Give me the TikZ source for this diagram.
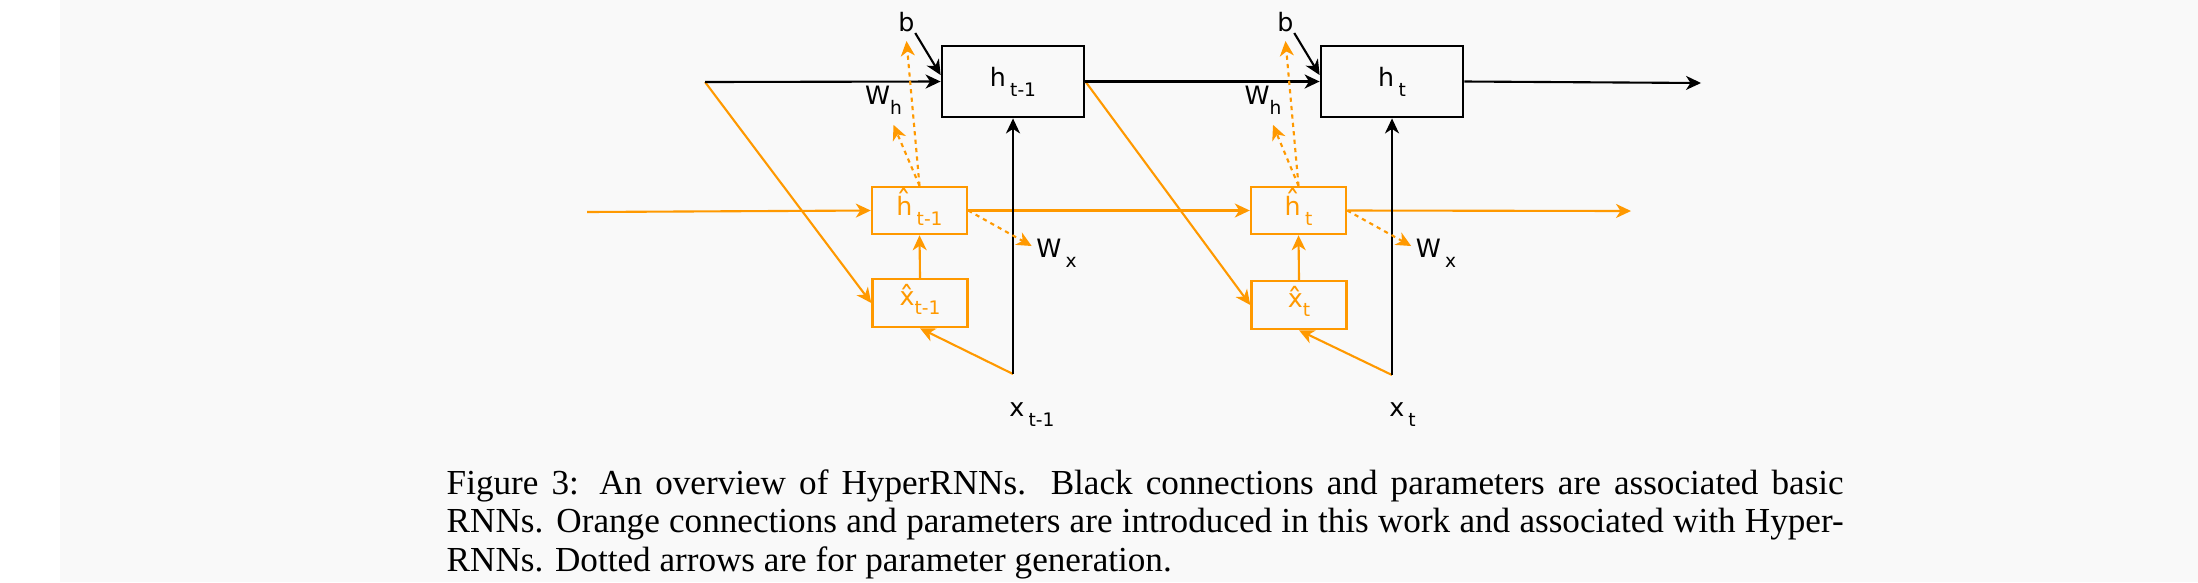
\documentclass[tikz,border=0pt]{standalone}
\usepackage{fontspec}
\setmainfont{Liberation Serif}
\newfontfamily\diagfont{DejaVu Sans}
\usepackage{tikz}
\usetikzlibrary{arrows.meta, positioning, calc}
\definecolor{hyporange}{RGB}{255,153,0}
\definecolor{pagegray}{RGB}{249,249,249}
\newcommand{\lowsub}[1]{\raisebox{-2.8pt}{\fontsize{5.3}{6}\selectfont #1}}
\newcommand{\hatted}[2]{\ooalign{#1\cr\hidewidth\raisebox{#2}{\fontsize{8.6}{9}\selectfont ˆ}\hidewidth\cr}}

\begin{document}
\begin{tikzpicture}[
  cell/.style={draw, line width=0.8pt, minimum width=1.42cm, minimum height=0.71cm,
               inner sep=0pt, font=\diagfont\fontsize{7.2}{8}\selectfont},
  hypcell/.style={draw=hyporange, text=hyporange, line width=0.7pt, minimum width=0.95cm,
                  minimum height=0.47cm, inner sep=0pt, font=\diagfont\fontsize{7.2}{8}\selectfont},
  param/.style={inner sep=0pt, font=\diagfont\fontsize{7.2}{8}\selectfont},
  arr/.style={-{Stealth[length=1.5mm, width=1.4mm, inset=0.45mm]}, line width=0.6pt},
  harr/.style={arr, color=hyporange},
  gen/.style={harr, dash pattern=on 1.2pt off 1.2pt}
]
  % page
  \useasboundingbox (0,0) rectangle (21.98,5.82);
  \fill[white] (0,0) rectangle (21.98,5.82);
  \fill[pagegray] (0.60,0) rectangle (21.98,5.82);

  % basic RNN cells
  \node[cell] (hprev) at (10.13,5.005) {h\,\lowsub{t-1}};
  \node[cell] (hcur)  at (13.92,5.005) {h\,\lowsub{t}};

  % HyperRNN cells
  \node[hypcell] (hhatprev) at (9.195,3.715) {\hatted{h}{0.9pt}\,\lowsub{t-1}};
  \node[hypcell] (hhatcur)  at (12.985,3.715) {\hatted{h}{0.9pt}\,\lowsub{t}};
  \node[hypcell, minimum height=0.48cm] (xhatprev) at (9.20,2.79) {\hatted{x}{-1pt}\lowsub{t-1}};
  \node[hypcell, minimum height=0.48cm] (xhatcur)  at (12.99,2.77) {\hatted{x}{-1pt}\lowsub{t}};

  % parameters
  \node[param] (bprev) at (9.065,5.595) {b};
  \node[param] (bcur)  at (12.855,5.595) {b};
  \node[param] (Whprev) at (8.835,4.82) {W\lowsub{h}};
  \node[param] (Whcur)  at (12.63,4.82) {W\lowsub{h}};
  \node[param] (Wxprev) at (10.565,3.29) {W\,\lowsub{x}};
  \node[param] (Wxcur)  at (14.36,3.29) {W\,\lowsub{x}};

  % inputs
  \node[param] (xlabprev) at (10.32,1.675) {x\,\lowsub{t-1}};
  \node[param] (xlabcur)  at (14.025,1.675) {x\,\lowsub{t}};

  % free ends
  \coordinate (hin) at (7.05,5.00);
  \coordinate (hout) at (17.01,4.99);
  \coordinate (hhatin) at (5.87,3.70);
  \coordinate (hhatout) at (16.31,3.71);
  \coordinate (xinprev) at (10.13,2.08);
  \coordinate (xincur) at (13.92,2.07);

  % orange connections
  \draw[harr] (hhatin) -- (hhatprev.west);
  \draw[harr] (hhatprev.east) -- (hhatcur.west);
  \draw[harr] (hhatcur.east) -- (hhatout);
  \draw[harr] (hin) -- (xhatprev.west);
  \draw[harr] (hprev.east) -- (xhatcur.west);
  \draw[harr] (xinprev) -- (xhatprev.south);
  \draw[harr] (xincur) -- (xhatcur.south);
  \draw[harr] (xhatprev.north) -- (hhatprev.south);
  \draw[harr] (xhatcur.north) -- (hhatcur.south);

  % black connections
  \draw[arr] (hin) -- (hprev.west);
  \draw[arr] (hprev.east) -- (hcur.west);
  \draw[arr] (hcur.east) -- (hout);
  \draw[arr] (xinprev) -- (hprev.south);
  \draw[arr] (xincur) -- (hcur.south);
  \draw[arr] (bprev.south east) -- ([yshift=0.65mm]hprev.west);
  \draw[arr] (bcur.south east) -- ([yshift=0.65mm]hcur.west);

  % parameter generation
  \draw[gen] (hhatprev.north) -- ([yshift=-0.8mm]bprev.south);
  \draw[gen] (hhatprev.north) -- ([xshift=1mm,yshift=-1mm]Whprev.south);
  \draw[gen] (hhatprev.east) -- ([xshift=-0.4mm,yshift=0.7mm]Wxprev.west);
  \draw[gen] (hhatcur.north) -- ([yshift=-0.8mm]bcur.south);
  \draw[gen] (hhatcur.north) -- ([xshift=1mm,yshift=-1mm]Whcur.south);
  \draw[gen] (hhatcur.east) -- ([xshift=-0.4mm,yshift=0.7mm]Wxcur.west);

  % caption
  \node[anchor=north west, inner sep=0pt, text width=13.97cm, align=justify,
        font=\fontsize{10}{10.9}\selectfont] (caption) at (4.46,1.13)
    {\noindent Figure 3: An overview of HyperRNNs. Black connections and parameters are associated basic\linebreak
     RNNs. Orange connections and parameters are introduced in this work and associated with Hyper-\linebreak
     RNNs. Dotted arrows are for parameter generation.};
\end{tikzpicture}
\end{document}
